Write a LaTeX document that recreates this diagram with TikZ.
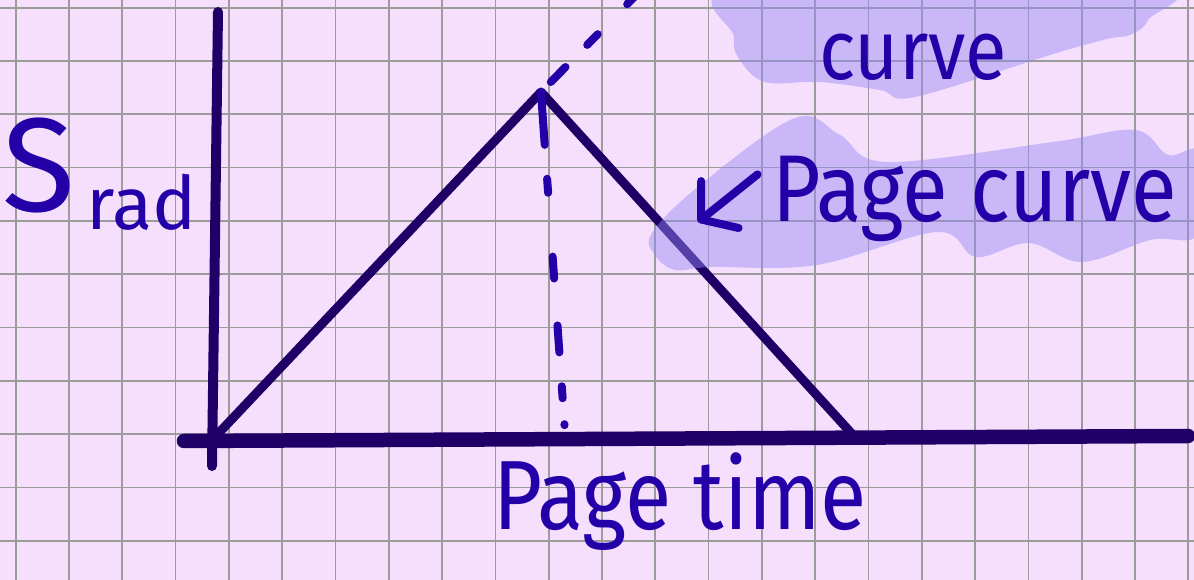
\documentclass[tikz,border=0pt]{standalone}
\usepackage{fontspec}
\setmainfont{Fira Sans}
\usepackage{graphicx}
\usetikzlibrary{arrows.meta}
\definecolor{paper}{HTML}{F6DEFD}
\definecolor{gridgray}{HTML}{9B9B9B}
\definecolor{ink}{HTML}{1F0066}
\definecolor{pen}{HTML}{2400A8}
\definecolor{marker}{HTML}{948BF4}

\begin{document}
\begin{tikzpicture}[
  gridline/.style={gridgray,line width=0.5pt},
  axis/.style={ink,line width=1mm,line cap=round},
  hand/.style={pen,line width=0.8mm,line cap=round},
  blob/.style={marker,opacity=0.46},
  scrawl/.style={pen,inner sep=0pt}
]
  \useasboundingbox (0,0) rectangle (11.94,5.80);
  \fill[paper] (0,0) rectangle (11.94,5.80);
  \clip (0,0) rectangle (11.94,5.80);

  % squared paper
  \foreach \i in {0,...,22}
    \draw[gridline] ({0.157+0.533*\i},0) -- ++(0,5.8);
  \foreach \j in {0,...,10}
    \draw[gridline] (0,{5.723-0.533*\j}) -- ++(11.94,0);

  % axes
  \draw[axis] (2.18,5.68) -- (2.12,1.14);
  \draw[axis,line width=1.45mm] (1.84,1.39) -- (11.88,1.44);

  % triangle
  \coordinate (start) at (2.15,1.43);
  \coordinate (peak) at (5.41,4.88);
  \coordinate (stop) at (8.53,1.45);
  \draw[axis,line width=0.9mm,line join=round] (start) -- (peak) -- (stop);

  \coordinate (foot) at (5.65,1.48);
  \coordinate (beyond) at (6.46,5.95);
  \draw[hand,dash pattern=on 5.3mm off 3.4mm on 1.4mm off 6.4mm on 2.2mm off 4.7mm on 2.7mm off 3.4mm on 1.2mm off 2.6mm on 0.1mm off 5mm] (peak) -- (foot);
  \draw[hand,dash pattern=on 2.1mm off 3.1mm on 1.5mm off 4.2mm on 3mm off 1.4mm,dash phase=13.9mm] (peak) -- (beyond);

  % highlighter
  \fill[blob] plot[smooth cycle,tension=0.6] coordinates {(7.34,5.43) (7.45,5.95) (11.5,5.95) (11.48,5.60) (11.3,5.45) (11.07,5.41) (10.5,5.25) (9.15,4.83) (8.8,4.9) (8.2,4.98) (7.65,4.98) (7.40,5.2)};
  \fill[blob] plot[smooth cycle,tension=0.6] coordinates {(6.52,3.47) (7.0,3.95) (7.95,4.62) (8.4,4.45) (8.87,4.18) (10.53,4.38) (11.35,4.50) (11.68,4.25) (12.0,4.27) (12.0,3.47) (11.5,3.40) (10.82,3.18) (10.29,3.37) (9.76,3.23) (9.37,3.48) (8.17,3.15) (7.11,3.13) (6.75,3.10) (6.55,3.25)};

  % labels
  \node[scrawl,font=\fontsize{24}{24}\selectfont,anchor=base] (curvetxt) at (9.13,5.0) {\scalebox{0.9}[1]{curve}};
  \node[scrawl,font=\fontsize{27}{27}\selectfont,anchor=base] (pagecurve) at (9.745,3.58) {\scalebox{0.88}[1]{Page curve}};
  \node[scrawl,font=\fontsize{28}{28}\selectfont,anchor=base] (pagetime) at (6.8,0.50) {\scalebox{0.86}[1]{Page time}};
  \node[scrawl,anchor=base west] (srad) at (0.02,3.68) {{\fontsize{38}{38}\selectfont S}\hspace{1.1mm}\raisebox{-1.8mm}{\fontsize{21}{21}\selectfont rad}};

  \coordinate (tip) at (6.98,3.58);
  \draw[hand,-{Straight Barb[length=2.4mm,width=6mm,round]}] ([shift={(-0.14,0.25)}]pagecurve.west) -- (tip);
\end{tikzpicture}
\end{document}
